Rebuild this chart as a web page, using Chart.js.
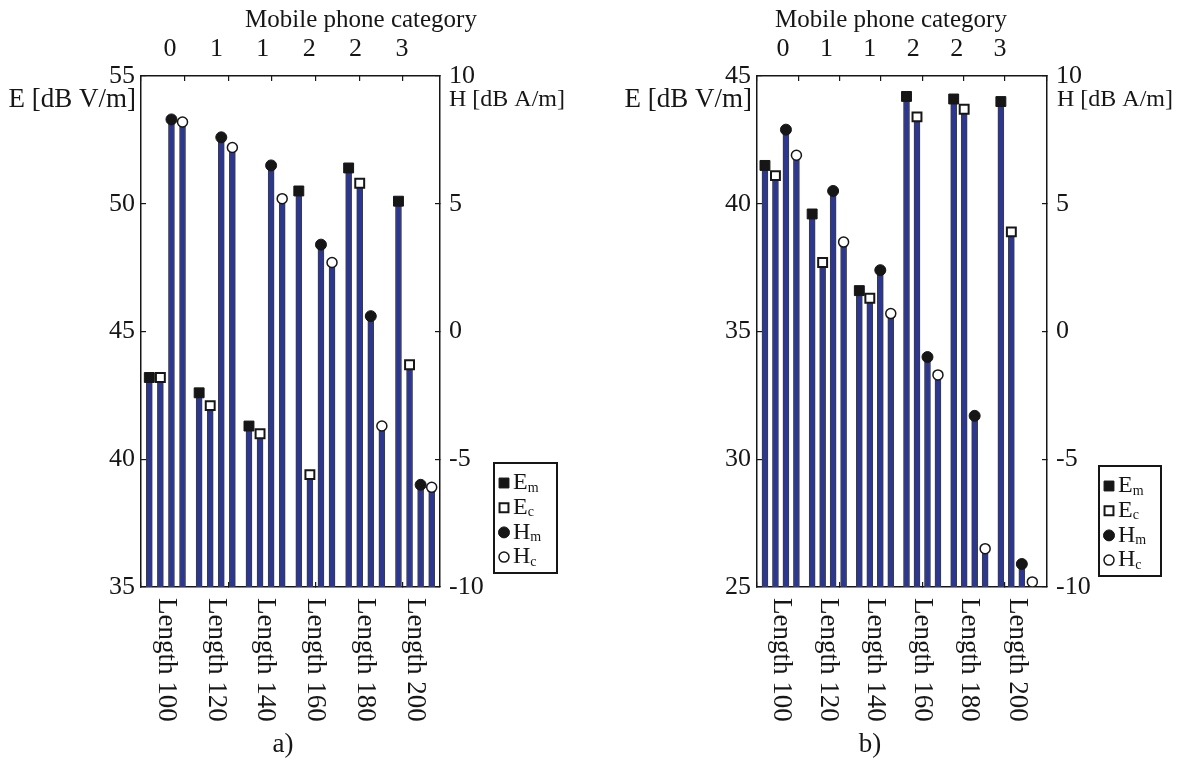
<!DOCTYPE html>
<html>
<head>
<meta charset="utf-8">
<script src="https://cdn.jsdelivr.net/npm/chart.js@4.4.1/dist/chart.umd.min.js"></script>
<style>
  html, body { margin: 0; padding: 0; background: #ffffff; }
  #wrap { position: relative; width: 1187px; height: 760px; overflow: hidden; }
  #wrap canvas { position: absolute; top: 0; }
</style>
</head>
<body>
<div id="wrap">
  <canvas id="chartA" width="593" height="760" style="left:0px"></canvas>
  <canvas id="chartB" width="594" height="760" style="left:593px"></canvas>
</div>
<script>
// ---- data -------------------------------------------------------------
const lengthLabels  = ['Length 100', 'Length 120', 'Length 140', 'Length 160', 'Length 180', 'Length 200'];
const phoneCategory = ['0', '1', '1', '2', '2', '3'];

// panel a) : E in dB V/m, H in dB A/m
const emA = [43.2, 42.6, 41.3, 50.5, 51.4, 50.1];
const ecA = [43.2, 42.1, 41.0, 39.4, 50.8, 43.7];
const hmA = [8.3, 7.6, 6.5, 3.4, 0.6, -6.0];
const hcA = [8.2, 7.2, 5.2, 2.7, -3.7, -6.1];

// panel b)
const emB = [41.5, 39.6, 36.6, 44.2, 44.1, 44.0];
const ecB = [41.1, 37.7, 36.3, 43.4, 43.7, 38.9];
const hmB = [7.9, 5.5, 2.4, -1.0, -3.3, -9.1];
const hcB = [6.9, 3.5, 0.7, -1.7, -8.5, -9.8];

// axis tick values
const eTicksA = [35, 40, 45, 50, 55];
const eTicksB = [25, 30, 35, 40, 45];
const hTicks  = [-10, -5, 0, 5, 10];

// ---- styling ----------------------------------------------------------
const FONT_FAMILY = '"Liberation Serif", "Times New Roman", serif';
const TICK_SIZE = 26;
const E_UNIT_FONT = '27px ' + FONT_FAMILY;
const H_UNIT_FONT = '24px ' + FONT_FAMILY;
const TITLE_FONT = '25px ' + FONT_FAMILY;
const GROUP_FONT = '27px ' + FONT_FAMILY;
const LEGEND_FONT = '24px ' + FONT_FAMILY;
const SUB_FONT = '14px ' + FONT_FAMILY;
const INK = '#161616';
const STEM_BLUE = '#2c3792';
const GROUP_STEP = 4.5;   // slot distance between neighbouring length groups

const SERIES = [
  { key: 'em', name: 'E', sub: 'm', axis: 'y',  style: 'rect',   fill: INK,       radius: 7,   border: 1 },
  { key: 'ec', name: 'E', sub: 'c', axis: 'y',  style: 'rect',   fill: '#ffffff', radius: 6.3, border: 2 },
  { key: 'hm', name: 'H', sub: 'm', axis: 'y2', style: 'circle', fill: INK,       radius: 5.5, border: 1 },
  { key: 'hc', name: 'H', sub: 'c', axis: 'y2', style: 'circle', fill: '#ffffff', radius: 5,   border: 1.5 }
];

function stemX(group, k) { return group * GROUP_STEP + k; }

function drawMarker(ctx, s, x, y) {
  ctx.save();
  ctx.fillStyle = s.fill;
  ctx.strokeStyle = INK;
  ctx.lineWidth = s.border;
  ctx.beginPath();
  if (s.style === 'rect') {
    const h = Math.SQRT1_2 * s.radius;
    ctx.rect(x - h, y - h, 2 * h, 2 * h);
  } else {
    ctx.arc(x, y, s.radius, 0, Math.PI * 2);
  }
  ctx.fill();
  ctx.stroke();
  ctx.restore();
}

// free text, rotated group names and the legend box
const panelDecor = {
  id: 'panelDecor',
  afterDraw(chart, args, opts) {
    const ctx = chart.ctx;
    ctx.save();
    ctx.fillStyle = INK;
    ctx.textBaseline = 'middle';
    for (const t of opts.texts) {
      ctx.font = t.font;
      ctx.textAlign = t.align;
      ctx.fillText(t.text, t.x, t.y);
    }
    const xs = chart.scales.xs;
    const y0 = chart.chartArea.bottom + opts.groupLabelGap;
    ctx.font = GROUP_FONT;
    lengthLabels.forEach((lab, g) => {
      const x = xs.getPixelForValue(stemX(g, 1.5));
      ctx.save();
      ctx.translate(x, y0);
      ctx.rotate(Math.PI / 2);
      ctx.textAlign = 'left';
      ctx.textBaseline = 'middle';
      ctx.fillText(lab, 0, 0);
      ctx.restore();
    });
    const L = opts.legend;
    ctx.lineWidth = 2;
    ctx.strokeStyle = INK;
    ctx.strokeRect(L.x, L.y, L.w, L.h);
    SERIES.forEach((s, i) => {
      const cy = L.y + L.firstRow + i * L.rowStep;
      drawMarker(ctx, s, L.x + L.markerX, cy);
      ctx.fillStyle = INK;
      ctx.font = LEGEND_FONT;
      ctx.textAlign = 'left';
      ctx.textBaseline = 'middle';
      ctx.fillText(s.name, L.x + L.textX, cy);
      const w = ctx.measureText(s.name).width;
      ctx.font = SUB_FONT;
      ctx.fillText(s.sub, L.x + L.textX + w, cy + 5);
    });
    ctx.restore();
  }
};

function makeChart(canvasId, values, eTicks, lay) {
  const eMin = eTicks[0], eMax = eTicks[eTicks.length - 1];
  const hMin = hTicks[0], hMax = hTicks[hTicks.length - 1];
  const datasets = [];
  SERIES.forEach((s, k) => {
    const vals = values[s.key];
    const base = s.axis === 'y' ? eMin : hMin;
    datasets.push({
      type: 'bar',
      label: s.name + s.sub + ' stem',
      data: vals.map((v, g) => ({ x: stemX(g, k), y: [base, v] })),
      xAxisID: 'xs',
      yAxisID: s.axis,
      grouped: false,
      barThickness: 6,
      backgroundColor: STEM_BLUE,
      borderColor: '#3c3c3c',
      borderWidth: { left: 1, right: 1, top: 0, bottom: 0 },
      borderSkipped: false,
      order: 2
    });
    datasets.push({
      type: 'scatter',
      label: s.name + s.sub,
      data: vals.map((v, g) => ({ x: stemX(g, k), y: v })),
      xAxisID: 'xs',
      yAxisID: s.axis,
      showLine: false,
      pointStyle: s.style,
      pointRadius: s.radius,
      pointBackgroundColor: s.fill,
      pointBorderColor: INK,
      pointBorderWidth: s.border,
      order: 1
    });
  });

  const tickFont = { family: FONT_FAMILY, size: TICK_SIZE };
  const frame = { display: true, color: INK, width: 1.5 };
  const inwardGrid = { display: true, drawOnChartArea: false, drawTicks: true, tickLength: -5, color: INK, lineWidth: 1.2 };

  return new Chart(document.getElementById(canvasId), {
    type: 'scatter',
    data: { datasets },
    plugins: [panelDecor],
    options: {
      responsive: false,
      animation: false,
      events: [],
      layout: { padding: 0 },
      plugins: {
        legend: { display: false },
        tooltip: { enabled: false },
        panelDecor: lay.decor
      },
      scales: {
        xs: { type: 'linear', display: false, min: lay.xsMin, max: lay.xsMax, offset: false },
        xt: {
          type: 'linear', position: 'top', weight: 0, min: -1, max: lay.tickMax, offset: false,
          grid: inwardGrid, border: frame,
          ticks: { display: false, stepSize: 1, includeBounds: false },
          afterFit: (s) => { s.height = 0; }
        },
        xl: {
          type: 'linear', position: 'top', weight: 1, min: lay.labelMin, max: lay.labelMax, offset: false,
          grid: { display: false }, border: { display: false },
          ticks: {
            font: tickFont, color: INK, padding: 3, maxRotation: 0, autoSkip: false,
            callback: (v, i) => phoneCategory[i]
          },
          afterBuildTicks: (s) => { s.ticks = phoneCategory.map((_, i) => ({ value: i })); },
          afterFit: (s) => { s.height = lay.top; }
        },
        x: {
          type: 'linear', position: 'bottom', min: -1, max: lay.tickMax, offset: false,
          grid: inwardGrid, border: frame,
          ticks: { display: false },
          afterBuildTicks: (s) => { s.ticks = [-1, 1, 3, 5].map(v => ({ value: v })); },
          afterFit: (s) => { s.height = lay.bottom; }
        },
        y: {
          type: 'linear', position: 'left', min: eMin, max: eMax, beginAtZero: false,
          grid: inwardGrid, border: frame,
          ticks: { font: tickFont, color: INK, padding: 11 },
          afterBuildTicks: (s) => { s.ticks = eTicks.map(v => ({ value: v })); },
          afterFit: (s) => { s.width = lay.left; }
        },
        y2: {
          type: 'linear', position: 'right', min: hMin, max: hMax, beginAtZero: false,
          grid: inwardGrid, border: frame,
          ticks: { font: tickFont, color: INK, padding: 14 },
          afterBuildTicks: (s) => { s.ticks = hTicks.map(v => ({ value: v })); },
          afterFit: (s) => { s.width = lay.right; }
        }
      }
    }
  });
}

makeChart('chartA', { em: emA, ec: ecA, hm: hmA, hc: hcA }, eTicksA, {
  left: 141, right: 153, top: 76, bottom: 173,
  xsMin: -0.75, xsMax: 26.25, tickMax: 5.85, labelMin: -0.625, labelMax: 5.82,
  decor: {
    groupLabelGap: 11,
    texts: [
      { text: 'Mobile phone category', x: 361, y: 20, align: 'center', font: TITLE_FONT },
      { text: 'E [dB V/m]', x: 136, y: 100, align: 'right', font: E_UNIT_FONT },
      { text: 'H [dB A/m]', x: 449, y: 100, align: 'left', font: H_UNIT_FONT },
      { text: 'a)', x: 283, y: 745, align: 'center', font: E_UNIT_FONT }
    ],
    legend: { x: 494, y: 463, w: 63, h: 110, firstRow: 20, rowStep: 24.7, markerX: 10, textX: 19 }
  }
});

makeChart('chartB', { em: emB, ec: ecB, hm: hmB, hc: hcB }, eTicksB, {
  left: 164, right: 140, top: 76, bottom: 173,
  xsMin: -0.76, xsMax: 26.9, tickMax: 6.02, labelMin: -0.6, labelMax: 6.08,
  decor: {
    groupLabelGap: 11,
    texts: [
      { text: 'Mobile phone category', x: 298, y: 20, align: 'center', font: TITLE_FONT },
      { text: 'E [dB V/m]', x: 159, y: 100, align: 'right', font: E_UNIT_FONT },
      { text: 'H [dB A/m]', x: 464, y: 100, align: 'left', font: H_UNIT_FONT },
      { text: 'b)', x: 277, y: 745, align: 'center', font: E_UNIT_FONT }
    ],
    legend: { x: 506, y: 466, w: 62, h: 110, firstRow: 20, rowStep: 24.7, markerX: 10, textX: 19 }
  }
});
</script>
</body>
</html>
